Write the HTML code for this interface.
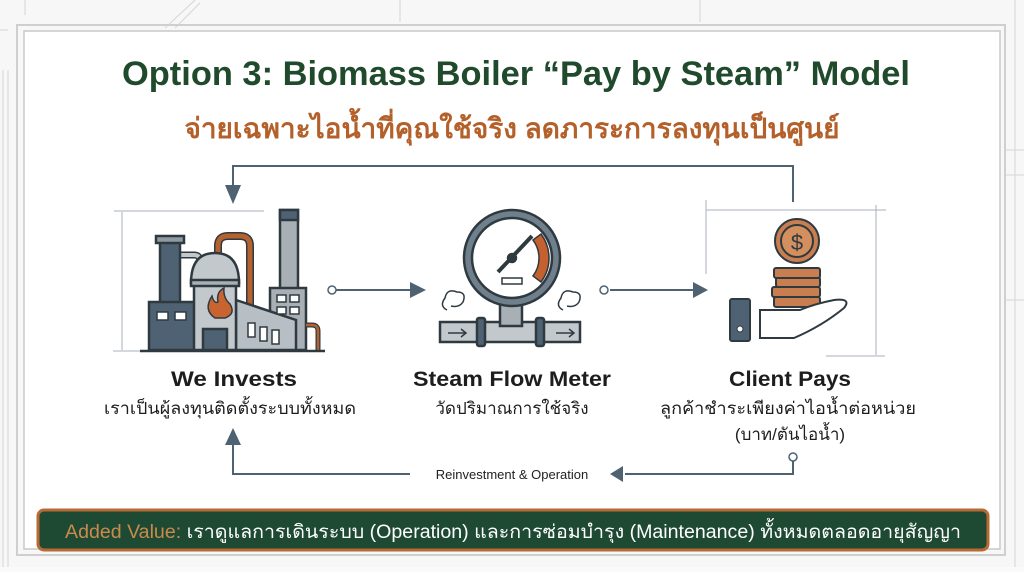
<!DOCTYPE html>
<html><head><meta charset="utf-8"><style>
body{margin:0;width:1024px;height:567px;overflow:hidden;background:#fafafa;font-family:"Liberation Sans","Noto Sans CJK SC",sans-serif}
svg text{font-family:"Liberation Sans","Noto Sans CJK SC",sans-serif}
</style></head><body>
<svg width="1024" height="567" viewBox="0 0 1024 567" xmlns="http://www.w3.org/2000/svg">
<rect width="1024" height="567" fill="#f7f7f7"/>
<g stroke="#d6d6d6" stroke-width="1" fill="none">
<line x1="0" y1="30" x2="8" y2="30"/><line x1="25" y1="0" x2="25" y2="15"/>
<line x1="165" y1="28" x2="195" y2="0"/><line x1="175" y1="28" x2="200" y2="3"/>
<line x1="3" y1="70" x2="3" y2="567"/><line x1="8" y1="70" x2="8" y2="567"/>
<line x1="1005" y1="150" x2="1024" y2="150"/><line x1="1005" y1="175" x2="1024" y2="175"/>
<line x1="1005" y1="300" x2="1024" y2="300"/><line x1="1015" y1="0" x2="1015" y2="567"/>
<line x1="400" y1="0" x2="400" y2="22"/><line x1="700" y1="0" x2="700" y2="22"/>
</g>
<rect x="17" y="25" width="988" height="530" fill="none" stroke="#cfcfcf" stroke-width="2"/>
<rect x="24" y="31" width="976" height="518" fill="#ffffff" stroke="#c8c8c8" stroke-width="1.5"/>
<text x="516" y="85" text-anchor="middle" font-size="34" font-weight="bold" fill="#1f4a2c" textLength="788" lengthAdjust="spacingAndGlyphs">Option 3: Biomass Boiler “Pay by Steam” Model</text>
<text x="512" y="138" text-anchor="middle" font-size="28" font-weight="bold" fill="#b4602a" textLength="655" lengthAdjust="spacingAndGlyphs">จ่ายเฉพาะไอน้ำที่คุณใช้จริง ลดภาระการลงทุนเป็นศูนย์</text>
<g stroke="#4e6272" stroke-width="2" fill="none">
<polyline points="793,202 793,166 233,166 233,185"/>
<line x1="336" y1="290" x2="418" y2="290"/>
<line x1="610" y1="290" x2="695" y2="290"/>
<polyline points="793,460 793,474 625,474"/>
<polyline points="410,474 233,474 233,445"/>
</g>
<g fill="#4e6272">
<polygon points="225,185 241,185 233,204"/>
<polygon points="410,282 426,290 410,298"/>
<polygon points="693,282 708,290 693,298"/>
<polygon points="623,466 610,474 623,482"/>
<polygon points="225,445 241,445 233,428"/>
</g>
<circle cx="332" cy="290" r="4" fill="#fff" stroke="#4e6272" stroke-width="1.5"/>
<circle cx="604" cy="290" r="4" fill="#fff" stroke="#4e6272" stroke-width="1.5"/>
<circle cx="793" cy="457" r="4" fill="#fff" stroke="#4e6272" stroke-width="1.5"/>
<text x="512" y="479" text-anchor="middle" font-size="13" fill="#222">Reinvestment &amp; Operation</text>
<g stroke="#aab2ba" stroke-width="1" fill="none">
<line x1="114" y1="211" x2="264" y2="211"/><line x1="122" y1="212" x2="122" y2="350"/><line x1="113" y1="351" x2="140" y2="351"/>
<line x1="706" y1="210" x2="886" y2="210"/><line x1="706" y1="200" x2="706" y2="274"/><line x1="876" y1="205" x2="876" y2="355"/><line x1="826" y1="356" x2="885" y2="356"/>
</g>
<!-- factory -->
<g stroke="#2f3a40" stroke-width="2.5">
<path d="M218 258 v-12 q0-10 10-10 h12 q10 0 10 10 v60" fill="none" stroke="#2f3a40" stroke-width="8"/>
<path d="M218 258 v-12 q0-10 10-10 h12 q10 0 10 10 v60" fill="none" stroke="#b5622f" stroke-width="5"/>
<path d="M180 255 h14 q6 0 6 6 v8" fill="none" stroke="#2f3a40" stroke-width="7"/>
<path d="M180 255 h14 q6 0 6 6 v8" fill="none" stroke="#c2c8cc" stroke-width="4"/>
<rect x="160" y="240" width="20" height="110" fill="#4f6273"/>
<rect x="156" y="236" width="28" height="7" fill="#909aa2"/>
<rect x="149" y="302" width="46" height="48" fill="#4f6273"/>
<rect x="280" y="210" width="18" height="80" fill="#a8b0b6"/>
<rect x="280" y="210" width="18" height="10" fill="#4f6273"/>
<rect x="270" y="288" width="36" height="62" fill="#a8b0b6"/>
<path d="M236 300 l60 20 v30 h-60 z" fill="#b8bfc4"/>
<rect x="194" y="282" width="42" height="68" fill="#c2c8cc"/>
<path d="M191 283 q0-30 24-30 q24 0 24 30 z" fill="#c2c8cc"/>
<rect x="191" y="280" width="48" height="6" fill="#a8b0b6"/>
<rect x="203" y="329" width="24" height="21" fill="#4f6273"/>
<path d="M306 325 h6 q6 0 6 6 v19" fill="none" stroke-width="5"/>
<path d="M306 325 h6 q6 0 6 6 v19" fill="none" stroke="#b5622f" stroke-width="2.5"/>
<line x1="140" y1="351" x2="325" y2="351" stroke-width="2.5"/>
</g>
<path d="M215 318 q-12-8-3-22 q2 8 6 6 q-2-10 6-14 q-1 10 6 16 q6 10-5 14 z" fill="#c8642f" stroke="#2f3a40" stroke-width="1.5"/>
<g fill="#fff" stroke="#2f3a40" stroke-width="1.5">
<rect x="157" y="312" width="11" height="8"/><rect x="175" y="312" width="11" height="8"/>
<rect x="277" y="295" width="9" height="7"/><rect x="290" y="295" width="9" height="7"/>
<rect x="277" y="307" width="9" height="7"/><rect x="290" y="307" width="9" height="7"/>
<rect x="248" y="323" width="7" height="14"/><rect x="260" y="327" width="7" height="14"/><rect x="272" y="330" width="7" height="14"/>
</g>
<!-- meter -->
<g stroke="#2f3a40" stroke-width="2.5">
<rect x="440" y="322" width="140" height="20" fill="#c2c8cc"/>
<rect x="500" y="300" width="22" height="26" fill="#a8b0b6"/>
<rect x="477" y="318" width="8" height="28" rx="2" fill="#4f6273"/>
<rect x="536" y="318" width="8" height="28" rx="2" fill="#4f6273"/>
<circle cx="512" cy="258" r="48" fill="#6f7f8c"/>
<circle cx="512" cy="258" r="40" fill="#fff"/>
<path d="M541 234 a40 40 0 0 1 0 48 l-8 -6 a30 30 0 0 0 0 -36 z" fill="#c4612f" stroke-width="1.5"/>
<line x1="498" y1="272" x2="532" y2="236" stroke-width="4"/>
<circle cx="512" cy="258" r="4" fill="#2f3a40"/>
<rect x="502" y="278" width="20" height="6" fill="#fff" stroke-width="1.5"/>
</g>
<g fill="none" stroke="#2f3a40" stroke-width="1.5">
<path d="M447 310 q-8-4-2-12 q2-10 12-6 q10 0 6 10 q-4 6-12 4"/>
<path d="M563 310 q-8-4-2-12 q2-10 12-6 q10 0 6 10 q-4 6-12 4"/>
<path d="M448 333 h18 m-5 -4 l5 4 l-5 4 M556 333 h18 m-5 -4 l5 4 l-5 4"/>
</g>
<!-- coins hand -->
<g stroke="#2f3a40" stroke-width="2">
<rect x="774" y="297" width="46" height="10" rx="2" fill="#c87e4f"/>
<rect x="772" y="287" width="48" height="10" rx="2" fill="#c87e4f"/>
<rect x="776" y="277" width="44" height="10" rx="2" fill="#c87e4f"/>
<rect x="774" y="268" width="46" height="10" rx="2" fill="#c87e4f"/>
<circle cx="797" cy="241" r="22" fill="#c87e4f"/>
<circle cx="797" cy="241" r="16" fill="#d48f5f"/>
<path d="M760 310 h40 q14 -6 34 -10 q18-2 10 8 q-22 18 -50 30 h-34 z" fill="#fff"/>
<rect x="730" y="299" width="20" height="42" rx="2" fill="#4f6273"/>
</g>
<text x="797" y="250" text-anchor="middle" font-size="22" fill="#2f3a40">$</text>
<circle cx="740" cy="329" r="3" fill="#fff" stroke="#2f3a40"/>
<!-- labels -->
<text x="234" y="386" text-anchor="middle" font-size="21" font-weight="bold" fill="#1d1d1d" textLength="126" lengthAdjust="spacingAndGlyphs">We Invests</text>
<text x="230" y="414" text-anchor="middle" font-size="17" fill="#1d1d1d" textLength="252" lengthAdjust="spacingAndGlyphs">เราเป็นผู้ลงทุนติดตั้งระบบทั้งหมด</text>
<text x="512" y="386" text-anchor="middle" font-size="21" font-weight="bold" fill="#1d1d1d" textLength="198" lengthAdjust="spacingAndGlyphs">Steam Flow Meter</text>
<text x="512" y="414" text-anchor="middle" font-size="17" fill="#1d1d1d">วัดปริมาณการใช้จริง</text>
<text x="790" y="386" text-anchor="middle" font-size="21" font-weight="bold" fill="#1d1d1d" textLength="122" lengthAdjust="spacingAndGlyphs">Client Pays</text>
<text x="788" y="414" text-anchor="middle" font-size="17" fill="#1d1d1d" textLength="256" lengthAdjust="spacingAndGlyphs">ลูกค้าชำระเพียงค่าไอน้ำต่อหน่วย</text>
<text x="790" y="440" text-anchor="middle" font-size="17" fill="#1d1d1d">(บาท/ตันไอน้ำ)</text>
<!-- banner -->
<rect x="38" y="510" width="950" height="40" rx="6" fill="#1e4a33" stroke="#b86a35" stroke-width="3"/>
<text x="513" y="538" text-anchor="middle" font-size="19" fill="#ffffff" textLength="896" lengthAdjust="spacingAndGlyphs"><tspan fill="#c98a4c">Added Value:</tspan> เราดูแลการเดินระบบ (Operation) และการซ่อมบำรุง (Maintenance) ทั้งหมดตลอดอายุสัญญา</text>
</svg>
</body></html>
